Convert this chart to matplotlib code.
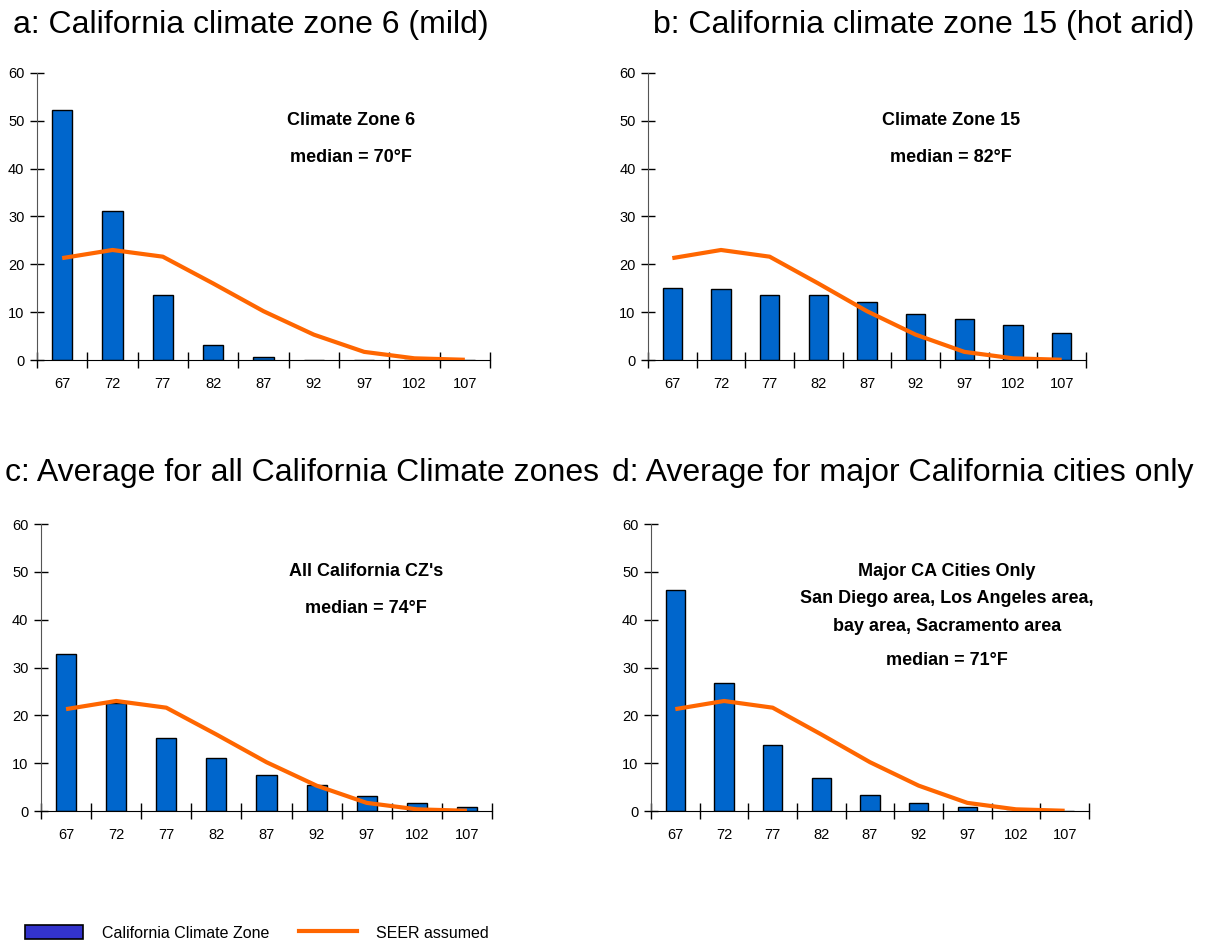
import numpy as np
import matplotlib
matplotlib.use("Agg")
import matplotlib.pyplot as plt
from matplotlib.patches import Patch
from matplotlib.lines import Line2D

plt.rcParams['font.family'] = ['Liberation Sans', 'DejaVu Sans']

# temperature bins (F)
temps = ["67", "72", "77", "82", "87", "92", "97", "102", "107"]

# SEER assumed curve (same in every panel)
seer = [21.3, 23.0, 21.6, 16.0, 10.2, 5.3, 1.7, 0.35, 0.05]

zone6 = [52.2, 31.1, 13.5, 3.1, 0.6, 0, 0, 0, 0]
zone15 = [15.1, 14.9, 13.5, 13.5, 12.1, 9.6, 8.5, 7.4, 5.7]
all_cz = [32.8, 22.5, 15.2, 11.0, 7.6, 5.4, 3.1, 1.7, 0.9]
cities = [46.3, 26.7, 13.7, 6.8, 3.3, 1.7, 0.9, 0.1, 0]

titles = ["a: California climate zone 6 (mild)",
          "b: California climate zone 15 (hot arid)",
          "c: Average for all California Climate zones",
          "d: Average for major California cities only"]

notes = [["Climate Zone 6", "median = 70°F"],
         ["Climate Zone 15", "median = 82°F"],
         ["All California CZ's", "median = 74°F"],
         ["Major CA Cities Only", "San Diego area, Los Angeles area,",
          "bay area, Sacramento area", "median = 71°F"]]

W, H = 1219, 946
fig = plt.figure(figsize=(W / 100, H / 100), dpi=100)

# axes boxes in pixels: left, top, right, bottom
boxes = [(37, 73, 490, 360), (648, 73, 1086, 360),
         (41, 524, 492, 811), (651, 524, 1089, 811)]
title_pos = [(13, 25), (653, 25), (5, 473), (612, 473)]
note_x = [0.693, 0.692, 0.72, 0.676]

series = [zone6, zone15, all_cz, cities]
x = np.arange(len(temps))

for i, vals in enumerate(series):
    l, t, r, b = boxes[i]
    ax = fig.add_axes([l / W, 1 - b / H, (r - l) / W, (b - t) / H])
    ax.bar(x, vals, width=0.4, color="#0066CC", edgecolor="black", linewidth=1, zorder=2)
    ax.plot(x, seer, color="#FF6600", linewidth=3, zorder=3, solid_capstyle="butt")
    ax.set_xlim(-0.5, len(temps) - 0.5)
    ax.set_ylim(0, 60)
    ax.set_yticks(range(0, 61, 10))
    ax.set_xticks(np.arange(-0.5, len(temps), 1.0))
    ax.set_xticklabels([])
    ax.set_xticks(x, minor=True)
    ax.set_xticklabels(temps, minor=True)
    ax.tick_params(axis="x", which="major", direction="inout", length=11, width=1)
    ax.tick_params(axis="x", which="minor", length=0, pad=12, labelsize=10.5)
    ax.tick_params(axis="y", direction="inout", length=10, width=1, pad=4, labelsize=10.5)
    for s in ["top", "right"]:
        ax.spines[s].set_visible(False)
    ax.spines["left"].set_color("#555555")
    ax.spines["bottom"].set_color("black")

    lines = notes[i]
    if len(lines) == 2:
        ax.text(note_x[i], 0.835, lines[0], transform=ax.transAxes, ha="center",
                va="center", fontsize=13, fontweight="bold")
        ax.text(note_x[i], 0.705, lines[1], transform=ax.transAxes, ha="center",
                va="center", fontsize=13, fontweight="bold")
    else:
        for yy, txt in zip([0.833, 0.739, 0.643, 0.526], lines):
            ax.text(note_x[i], yy, txt, transform=ax.transAxes, ha="center",
                    va="center", fontsize=13, fontweight="bold")

    tx, ty = title_pos[i]
    fig.text(tx / W, 1 - ty / H, titles[i], ha="left", va="center", fontsize=23)

handles = [Patch(facecolor="#3333CC", edgecolor="black", linewidth=1.2),
           Line2D([0], [0], color="#FF6600", linewidth=3)]
fig.legend(handles, ["California Climate Zone", "SEER assumed"],
           loc="center left", bbox_to_anchor=(25 / W, 1 - 933 / H), ncol=2,
           frameon=False, fontsize=11.5, handlelength=3.6, handleheight=1.0,
           columnspacing=1.9, handletextpad=1.2, borderaxespad=0, borderpad=0)

fig.savefig("out.png", dpi=100)
